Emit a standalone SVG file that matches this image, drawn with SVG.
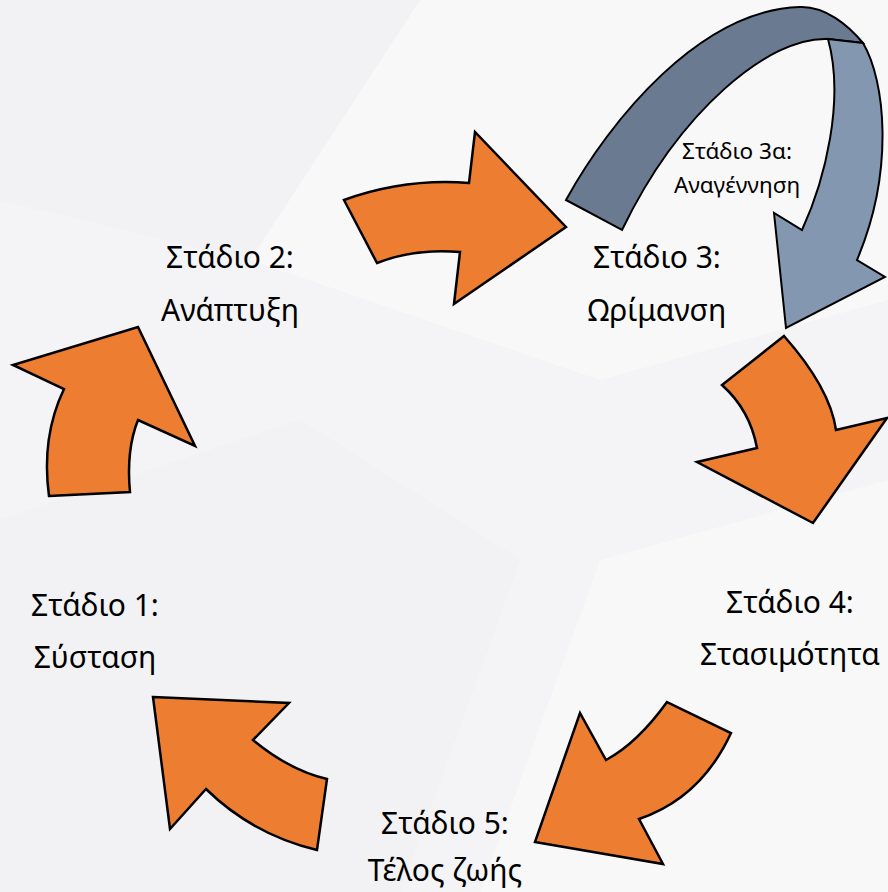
<svg xmlns="http://www.w3.org/2000/svg" width="888" height="892" viewBox="0 0 888 892">
<style>
.bg{fill:#F4F4F6}
.fac{fill:#F9F9FA;opacity:0.7}
.fac2{fill:#EFEFF2;opacity:0.5}
.orange{fill:#ED7D31;stroke:#000;stroke-width:2.5;stroke-linejoin:miter}
.bdark{fill:#6A7A91;stroke:#000;stroke-width:2;stroke-linejoin:miter}
.blight{fill:#8497B0;stroke:#000;stroke-width:2;stroke-linejoin:miter}
.lbl{font-family:"Noto Sans","Open Sans","DejaVu Sans",sans-serif;font-size:30px;fill:#000;text-anchor:middle}
.sm{font-family:"Noto Sans","Open Sans","DejaVu Sans",sans-serif;font-size:22.5px;fill:#000;text-anchor:middle}
</style>
<rect class="bg" x="0" y="0" width="888" height="892"/>
<polygon class="fac2" points="0,0 420,0 250,260 0,200"/>
<polygon class="fac" points="420,0 888,0 888,300 600,380 250,260"/>
<polygon class="fac2" points="0,520 300,420 520,560 400,892 0,892"/>
<polygon class="fac" points="600,560 888,480 888,892 480,892"/>
<g id="connectors">
<g id="arrow-1-2"><path class="orange" d="M49,496 L130,492 Q126,450 138,420 L195,446 L138,327 L13,365 L64,389 Q41,437 49,496 Z"/></g>
<g id="arrow-2-3"><path class="orange" d="M344,200 L377,263 Q415,248 460,252 L454,304 L566,227 L475,132 L469,183 Q405,178 344,200 Z"/></g>
<g id="arrow-3-4"><path class="orange" d="M784,336 L722,385 Q750,410 757,448 L697,462 L813,523 L887,418 L836,430 Q830,388 784,336 Z"/></g>
<g id="arrow-4-5"><path class="orange" d="M667,702 L731,733 Q701,798 639,819 L663,864 L535,842 L580,713 L606,760 Q637.5,743 667,702 Z"/></g>
<g id="arrow-5-1"><path class="orange" d="M153,697 L289,703 L253,740 Q290,770.5 327,779 L317,850 Q252.5,834.5 206,789 L170,829 Z"/></g>
<g id="arrow-3a">
<path class="bdark" d="M566,200 C610,120 700,10 800,7 C825,6 848,25 863,43 L828,39 C770,36 680,110 622,230 Z"/>
<path class="blight" d="M828,39 L863,43 C885,80 895,170 857,260 L885,277 L786,328 L774,213 L802,230 C825,180 845,100 828,39 Z"/>
</g>
</g>
<g id="stage1"><text class="lbl" x="95" y="616">Στάδιο 1:</text><text class="lbl" x="95" y="668">Σύσταση</text></g>
<g id="stage2"><text class="lbl" x="230" y="268">Στάδιο 2:</text><text class="lbl" x="230" y="321">Ανάπτυξη</text></g>
<g id="stage3"><text class="lbl" x="657" y="268">Στάδιο 3:</text><text class="lbl" x="657" y="321">Ωρίμανση</text></g>
<g id="stage3a"><text class="sm" x="737" y="159">Στάδιο 3α:</text><text class="sm" x="737" y="193">Αναγέννηση</text></g>
<g id="stage4"><text class="lbl" x="790" y="613">Στάδιο 4:</text><text class="lbl" x="790" y="665">Στασιμότητα</text></g>
<g id="stage5"><text class="lbl" x="445" y="834">Στάδιο 5:</text><text class="lbl" x="445" y="881">Τέλος ζωής</text></g>
</svg>
